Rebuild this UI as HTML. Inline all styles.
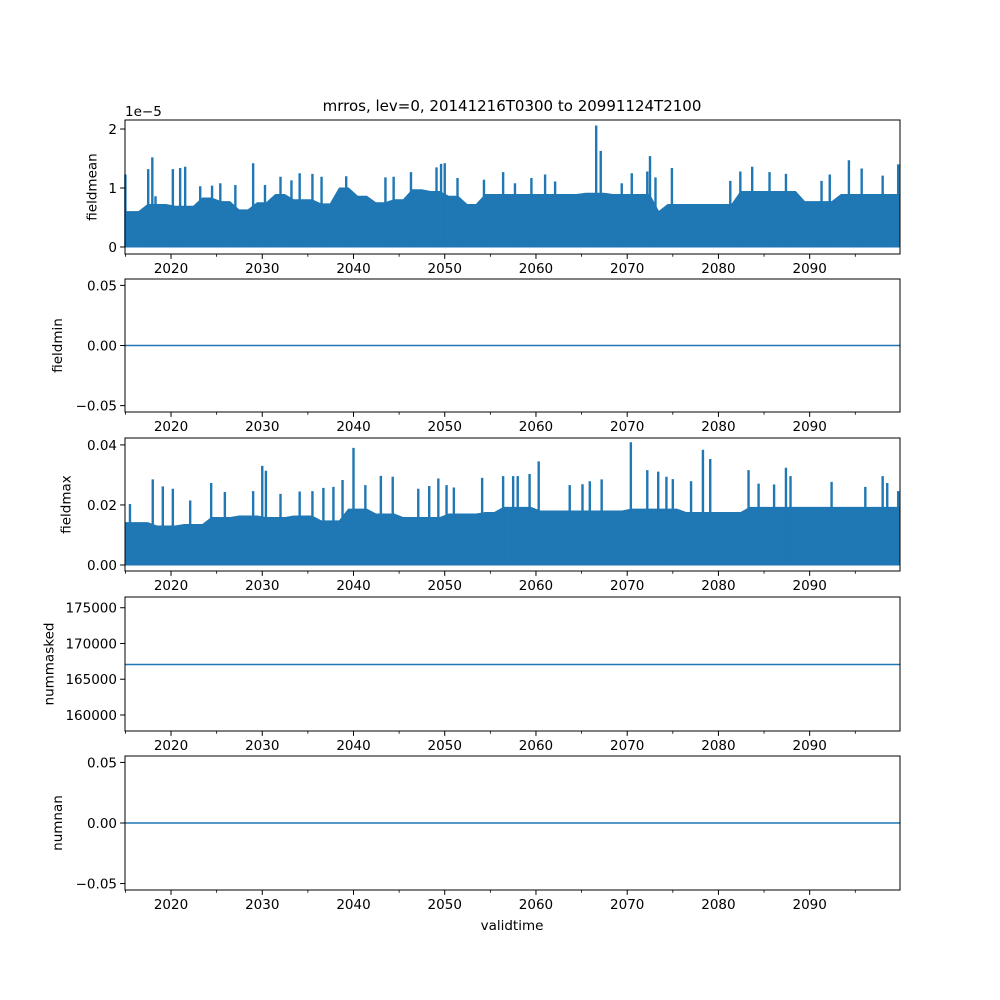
<!DOCTYPE html>
<html><head><meta charset="utf-8"><style>
body{margin:0;background:#fff}
svg{display:block;font-family:"DejaVu Sans","Liberation Sans",sans-serif}
</style></head><body>
<svg id="fig" width="1000" height="1000" viewBox="0 0 1000 1000" xmlns="http://www.w3.org/2000/svg">
<rect width="1000" height="1000" fill="#fff"/>
<text x="512" y="111" font-size="15" text-anchor="middle">mrros, lev=0, 20141216T0300 to 20991124T2100</text>
<text x="512" y="930" font-size="13.5" text-anchor="middle">validtime</text>
</svg>
<script>
// ---- data ----
const years = Array.from({length:85},(_,i)=>2015+i);
const meanEnvelope = [0.6,0.6,0.72,0.72,0.72,0.69,0.69,0.69,0.83,0.83,0.77,0.77,0.63,0.63,0.75,0.75,0.89,0.89,0.8,0.8,0.8,0.73,0.73,1.0,1.0,0.86,0.86,0.75,0.75,0.8,0.8,0.97,0.97,0.94,0.94,0.86,0.86,0.72,0.72,0.89,0.89,0.89,0.89,0.89,0.89,0.89,0.89,0.89,0.89,0.89,0.91,0.91,0.91,0.89,0.89,0.89,0.89,0.89,0.6,0.72,0.72,0.72,0.72,0.72,0.72,0.72,0.72,0.94,0.94,0.94,0.94,0.94,0.94,0.94,0.77,0.77,0.77,0.77,0.89,0.89,0.89,0.89,0.89,0.89,0.89];
const meanSpikeYears = [2015.0,2017.5,2017.95,2018.3,2020.2,2021.0,2021.55,2023.2,2024.5,2025.4,2027.05,2029.0,2030.3,2032.0,2033.2,2034.1,2035.5,2036.5,2039.2,2043.5,2044.4,2046.3,2049.1,2049.6,2050.0,2051.4,2054.3,2056.4,2057.7,2059.5,2061.0,2062.1,2066.6,2067.1,2069.4,2070.5,2072.2,2072.5,2073.1,2074.9,2081.3,2082.4,2083.7,2085.6,2087.4,2091.3,2092.2,2094.3,2095.7,2098.0,2099.7];
const meanSpikeVals = [1.23,1.32,1.52,0.86,1.32,1.34,1.36,1.03,1.04,1.08,1.05,1.42,1.05,1.19,1.13,1.25,1.24,1.19,1.2,1.18,1.19,1.27,1.35,1.41,1.42,1.17,1.14,1.27,1.08,1.17,1.23,1.11,2.06,1.63,1.08,1.25,1.28,1.54,1.18,1.34,1.12,1.28,1.36,1.27,1.24,1.12,1.23,1.47,1.33,1.21,1.40];
const maxEnvelope = [14.1,14.1,14.1,13,13,13,13.5,13.5,13.5,15.8,15.8,15.8,16.3,16.3,16.3,15.8,15.8,15.8,16.3,16.3,16.3,14.7,14.7,14.7,18.6,18.6,18.6,17,17,17,15.8,15.8,15.8,15.8,15.8,17,17,17,17,17.5,17.5,19.2,19.2,19.2,19.2,18,18,18,18,18,18,18,18,18,18,18.6,18.6,18.6,18.6,18.6,18.6,17.5,17.5,17.5,17.5,17.5,17.5,17.5,19.2,19.2,19.2,19.2,19.2,19.2,19.2,19.2,19.2,19.2,19.2,19.2,19.2,19.2,19.2,19.2,19.2];
const maxSpikeYears = [2015.5,2018.0,2019.1,2020.2,2022.1,2024.4,2025.9,2029.0,2030.0,2030.4,2032.0,2034.1,2035.5,2036.7,2037.8,2038.8,2040.0,2041.3,2043.0,2044.3,2047.1,2048.3,2049.3,2050.2,2051.0,2054.1,2056.4,2057.5,2058.0,2059.3,2060.3,2063.7,2065.1,2065.9,2067.2,2070.4,2072.2,2073.4,2074.3,2075.0,2077.0,2078.3,2079.1,2083.3,2084.4,2086.1,2087.4,2087.9,2092.4,2096.1,2098.0,2098.5,2099.7];
const maxSpikeVals = [20.3,28.5,26.2,25.4,21.5,27.3,24.3,24.6,33,31.4,23.7,24.5,24.6,25.7,26,28.3,39,26.6,29.7,29.4,25.4,26.3,28.8,26.6,25.8,29,29.6,29.6,29.6,30.3,34.5,26.6,26.9,27.9,28.5,40.9,31.6,31.1,29.4,28.6,27.9,38.4,35.3,31.6,27.1,26.8,32.4,29.6,27.7,26,29.6,27.3,24.6];
const fieldminValue = 0;
const nummaskedValue = 167060;
const numnanValue = 0;
const xTickYears = [2020,2030,2040,2050,2060,2070,2080,2090];
const xMinorYears = [2015,2025,2035,2045,2055,2065,2075,2085,2095];

const svg = document.getElementById('fig');
const NS = 'http://www.w3.org/2000/svg';
const X0 = 125, X1 = 900, XMIN = 2014.956, XMAX = 2099.9;
const C = '#1f77b4';
function sx(t){ return X0 + (t - XMIN) / (XMAX - XMIN) * (X1 - X0); }
function mk(tag, attrs){ const e = document.createElementNS(NS, tag); for (const k in attrs) e.setAttribute(k, attrs[k]); svg.appendChild(e); return e; }

const panels = [
  {name:'fieldmean', top:120, bot:254, ymin:-0.119, ymax:2.153, ticks:[0,1,2], labels:['0','1','2']},
  {name:'fieldmin', top:279, bot:412, ymin:-0.0553, ymax:0.0553, ticks:[-0.05,0,0.05], labels:['\u22120.05','0.00','0.05']},
  {name:'fieldmax', top:438, bot:571, ymin:-0.002, ymax:0.0423, ticks:[0,0.02,0.04], labels:['0.00','0.02','0.04']},
  {name:'nummasked', top:597, bot:731, ymin:157760, ymax:176500, ticks:[160000,165000,170000,175000], labels:['160000','165000','170000','175000']},
  {name:'numnan', top:756, bot:890, ymin:-0.0553, ymax:0.0553, ticks:[-0.05,0,0.05], labels:['\u22120.05','0.00','0.05']}
];
panels.forEach(p => { p.sy = v => p.bot - (v - p.ymin) / (p.ymax - p.ymin) * (p.bot - p.top); });

function drawNoisy(p, env, scale, spY, spV, key){
  let d = 'M' + X0 + ',' + p.sy(0) + ' L' + X0 + ',' + p.sy(env[0] * scale);
  years.forEach((y, i) => {
    d += ' L' + sx(Math.min(XMAX, y + 0.45)) + ',' + p.sy(env[i] * scale);
  });
  d += ' L' + X1 + ',' + p.sy(env[env.length - 1] * scale) + ' L' + X1 + ',' + p.sy(0) + ' Z';
  const a = mk('path', {d:d, fill:C, stroke:C, 'stroke-width':1});
  
  
  spY.forEach((t, i) => {
    const ln = mk('line', {x1:sx(t), x2:sx(t), y1:p.sy(0), y2:p.sy(spV[i] * scale), stroke:C, 'stroke-width':2.4});
    
    
  });
}
drawNoisy(panels[0], meanEnvelope, 1, meanSpikeYears, meanSpikeVals, 'fieldmean');
drawNoisy(panels[2], maxEnvelope, 0.001, maxSpikeYears, maxSpikeVals, 'fieldmax');
[[panels[1], fieldminValue],[panels[3], nummaskedValue],[panels[4], numnanValue]].forEach(([p, v]) => {
  const l = mk('line', {x1:X0, x2:X1, y1:p.sy(v), y2:p.sy(v), stroke:C, 'stroke-width':1.5});
  
  
});

panels.forEach(p => {
  const fr = mk('rect', {x:X0, y:p.top, width:X1 - X0, height:p.bot - p.top, fill:'none', stroke:'#000', 'stroke-width':1});
  
  
  xTickYears.forEach(t => {
    const x = sx(t);
    const tk = mk('line', {x1:x, x2:x, y1:p.bot, y2:p.bot + 4.9, stroke:'#000', 'stroke-width':1});
    
    
    const tl = mk('text', {x:x, y:p.bot + 19, 'font-size':13.5, 'text-anchor':'middle'});
    tl.textContent = t;
    
    
  });
  xMinorYears.forEach(t => {
    const x = sx(t);
    const mt = mk('line', {x1:x, x2:x, y1:p.bot, y2:p.bot + 2.8, stroke:'#000', 'stroke-width':0.8});
    
    
  });
  p.ticks.forEach((v, i) => {
    const y = p.sy(v);
    const tk = mk('line', {x1:X0 - 4.9, x2:X0, y1:y, y2:y, stroke:'#000', 'stroke-width':1});
    
    
    const tl = mk('text', {x:X0 - 8, y:y + 5, 'font-size':13.5, 'text-anchor':'end'});
    tl.textContent = p.labels[i];
    
    
  });
  const maxw = Math.max(...p.labels.map(s => s.length));
  const lx = X0 - 12 - maxw * 8.6 - 8;
  const cy = (p.top + p.bot) / 2;
  const yl = mk('text', {x:lx, y:cy, 'font-size':13.5, 'text-anchor':'middle', transform:'rotate(-90 ' + lx + ' ' + cy + ')'});
  yl.textContent = p.name;
  
  
});
const off = mk('text', {x:125, y:116, 'font-size':13.5});
off.textContent = '1e\u22125';


</script>
</body></html>
